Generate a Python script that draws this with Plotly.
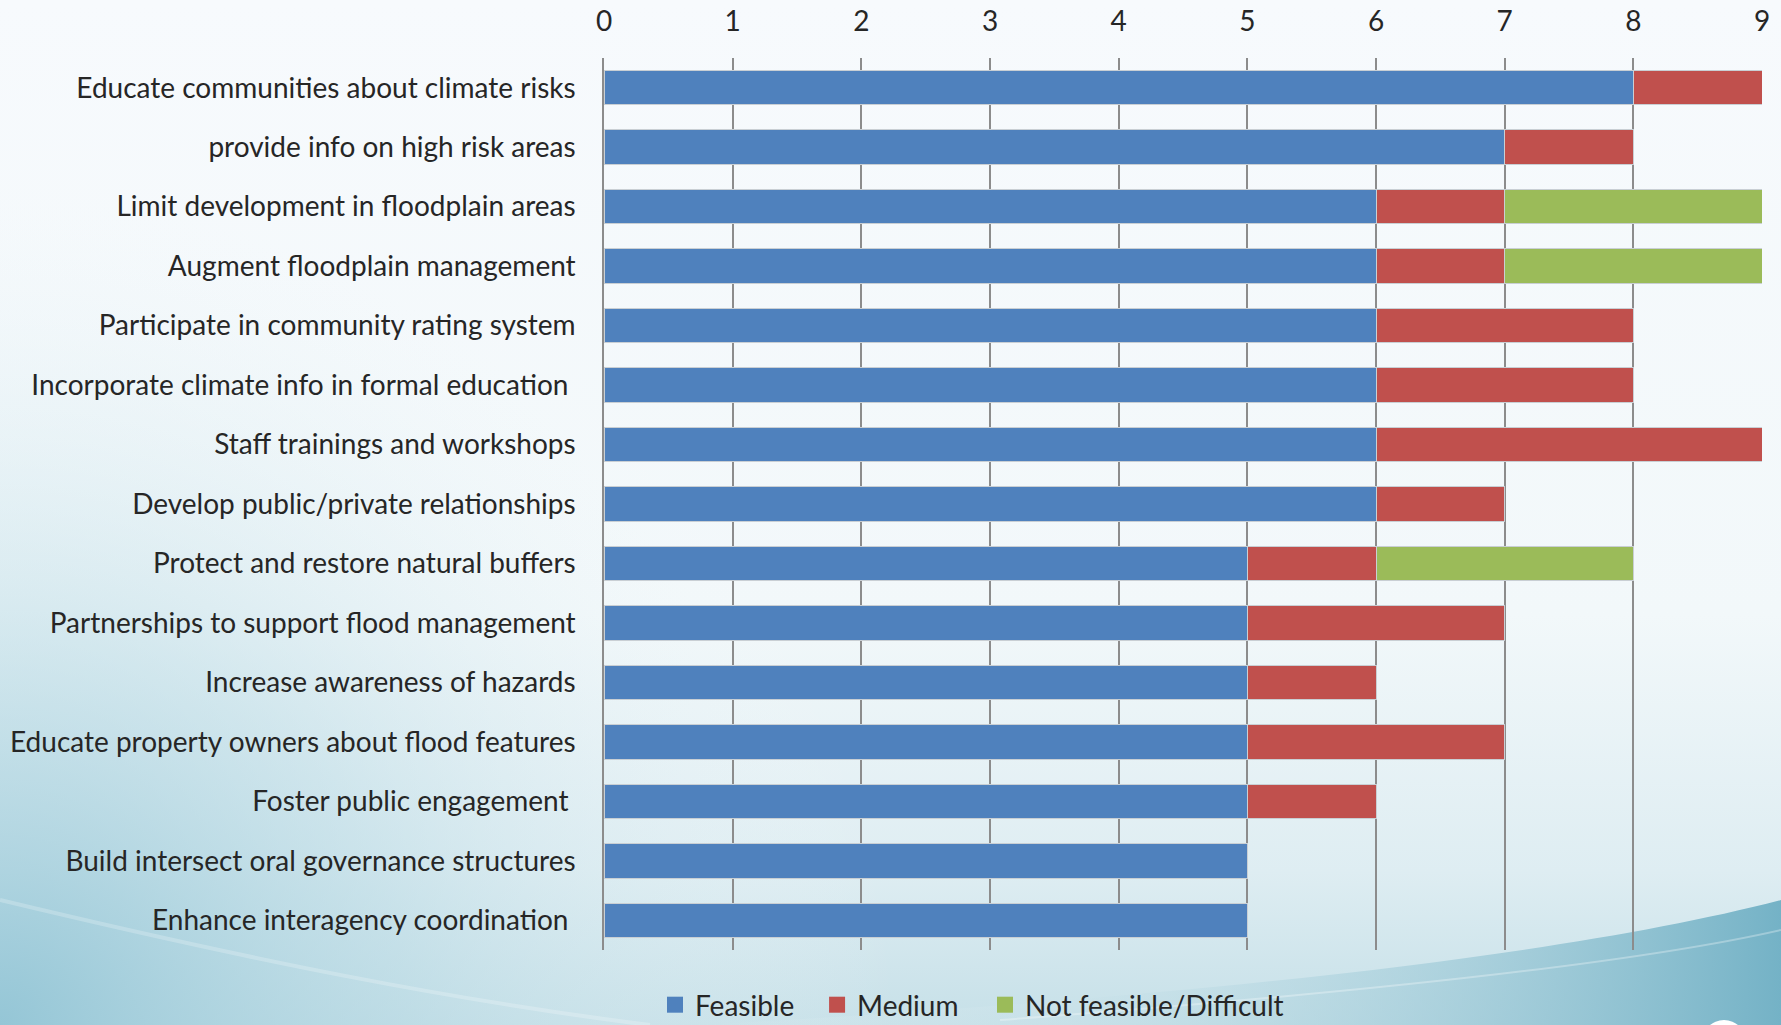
import base64
import plotly.graph_objects as go

categories = [
    "Educate communities about climate risks",
    "provide info on high risk areas",
    "Limit development in floodplain areas",
    "Augment floodplain management",
    "Participate in community rating system",
    "Incorporate climate info in formal education\u00a0",
    "Staff trainings and workshops",
    "Develop public/private relationships",
    "Protect and restore natural buffers",
    "Partnerships to support flood management",
    "Increase awareness of hazards",
    "Educate property owners about flood features",
    "Foster public engagement\u00a0",
    "Build intersect oral governance structures",
    "Enhance interagency coordination\u00a0",
]
feasible = [8, 7, 6, 6, 6, 6, 6, 6, 5, 5, 5, 5, 5, 5, 5]
medium = [1, 1, 1, 1, 2, 2, 3, 1, 1, 2, 1, 2, 1, 0, 0]
not_feasible = [0, 0, 2, 2, 0, 0, 0, 0, 2, 0, 0, 0, 0, 0, 0]
series_names = ["Feasible", "Medium", "Not feasible/Difficult"]
series_colors = ["#4f81bd", "#c0504d", "#9bbb59"]
legend_pads = ["\u00a0\u00a0\u2009", "\u00a0\u00a0\u00a0", ""]
x_ticks = [0, 1, 2, 3, 4, 5, 6, 7, 8, 9]

FONT = "Lato"
FS = 28
TXT = "#262626"

svg = """<svg xmlns='http://www.w3.org/2000/svg' width='1781' height='1025' viewBox='0 0 1781 1025' preserveAspectRatio='none'>
<defs>
<linearGradient id='g' x1='0' y1='0' x2='0' y2='1'>
<stop offset='0' stop-color='#f7fafd'/>
<stop offset='0.6' stop-color='#f2f8fa'/>
<stop offset='0.85' stop-color='#deedf2'/>
<stop offset='1' stop-color='#c6e0e8'/>
</linearGradient>
<radialGradient id='s1' cx='0' cy='1025' r='900' gradientUnits='userSpaceOnUse'>
<stop offset='0' stop-color='#8fc3d4' stop-opacity='0.9'/>
<stop offset='0.45' stop-color='#b3d7e2' stop-opacity='0.45'/>
<stop offset='1' stop-color='#ffffff' stop-opacity='0'/>
</radialGradient>
<linearGradient id='s2' x1='0' y1='0' x2='1' y2='0'>
<stop offset='0' stop-color='#ffffff' stop-opacity='0'/>
<stop offset='0.55' stop-color='#a9d0dc' stop-opacity='0.45'/>
<stop offset='1' stop-color='#74b2c6' stop-opacity='1'/>
</linearGradient>
</defs>
<rect width='1781' height='1025' fill='url(#g)'/>
<rect width='1781' height='1025' fill='url(#s1)'/>
<path d='M700,1025 C1150,1000 1550,960 1781,900 L1781,1025 Z' fill='url(#s2)'/>
<path d='M0,900 C250,960 450,1000 650,1025' stroke='#ffffff' stroke-opacity='0.22' stroke-width='4' fill='none'/>
<path d='M1000,1020 C1400,990 1650,960 1781,930' stroke='#ffffff' stroke-opacity='0.3' stroke-width='2' fill='none'/>
<ellipse cx='1724' cy='1042' rx='22' ry='22' fill='#ffffff'/>
</svg>"""
bg_uri = "data:image/svg+xml;base64," + base64.b64encode(svg.encode()).decode()

W, H = 1781, 1025
L, R, T, B = 604, 19, 58, 75
PW, PH = W - L - R, H - T - B

fig = go.Figure()
for name, vals, color in zip(series_names, [feasible, medium, not_feasible], series_colors):
    fig.add_trace(go.Bar(
        y=categories, x=vals, name=name, orientation="h", showlegend=False,
        marker=dict(color=color, line=dict(color="#c9cfd4", width=1)),
    ))
# legend entries with square swatches
for name, color, pad in zip(series_names, series_colors, legend_pads):
    fig.add_trace(go.Scatter(
        x=[None], y=[None], name=name + pad,
        mode="markers", marker=dict(symbol="square", size=16, color=color),
    ))

fig.update_layout(
    width=W, height=H,
    barmode="stack", bargap=0.42,
    margin=dict(l=L, r=R, t=T, b=B, autoexpand=False),
    paper_bgcolor="rgba(0,0,0,0)",
    plot_bgcolor="rgba(0,0,0,0)",
    font=dict(family=FONT, size=FS, color=TXT),
    images=[dict(source=bg_uri, xref="paper", yref="paper", x=-L / PW, y=1 + T / PH,
                 sizex=W / PW, sizey=H / PH, xanchor="left", yanchor="top",
                 sizing="stretch", layer="below")],
    legend=dict(orientation="h", xref="container", x=655 / W, xanchor="left",
                yref="container", y=(H - 1005) / H, yanchor="middle",
                font=dict(family=FONT, size=FS, color=TXT), traceorder="normal",
                itemwidth=30, bgcolor="rgba(0,0,0,0)"),
    showlegend=True,
)
fig.update_xaxes(
    side="top", range=[0, 9], tickvals=x_ticks, ticktext=[str(t) for t in x_ticks],
    showgrid=True, gridcolor="#8c8c8c", gridwidth=1.5, zeroline=False,
    ticks="outside", ticklen=15, tickcolor="rgba(0,0,0,0)", automargin=False,
    tickfont=dict(family=FONT, size=FS, color=TXT), fixedrange=True,
)
fig.update_yaxes(
    autorange="reversed", showline=True, linecolor="#8c8c8c", linewidth=1.5,
    showgrid=False, ticks="outside", ticklen=21, tickcolor="rgba(0,0,0,0)",
    automargin=False, tickfont=dict(family=FONT, size=FS, color=TXT),
)
fig.write_html("out.html", config={"displayModeBar": False},
               post_script="document.body.style.margin='0';document.body.style.overflow='hidden';")
